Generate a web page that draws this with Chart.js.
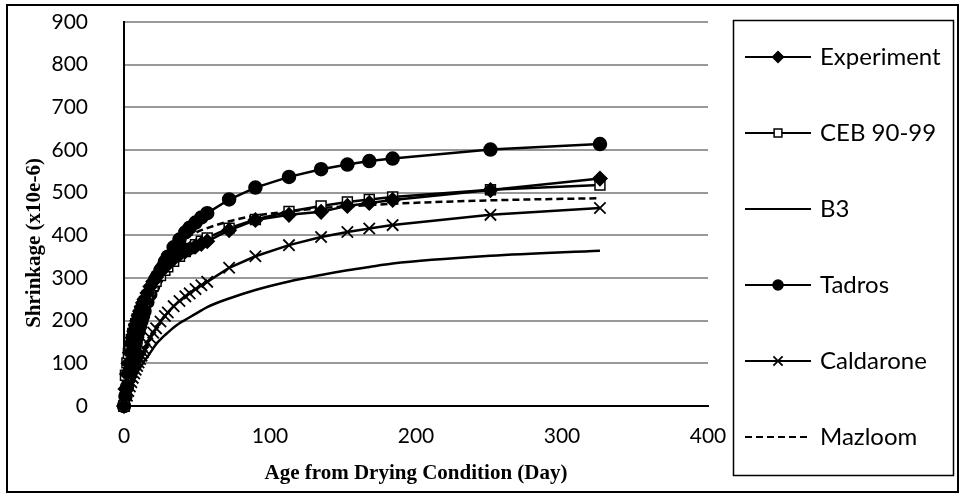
<!DOCTYPE html>
<html>
<head>
<meta charset="utf-8">
<script src="https://cdn.jsdelivr.net/npm/chart.js@4.4.1/dist/chart.umd.min.js"></script>
<style>
  html, body { margin: 0; padding: 0; background: #fff; }
  #wrap { width: 963px; height: 497px; }
</style>
</head>
<body>
<div id="wrap"><canvas id="shrinkChart" width="963" height="497"></canvas></div>
<script>
// days after drying started
const days = [0, 1, 2, 3, 4, 5, 6, 7, 8, 9, 10, 11, 12, 13, 14, 16, 18, 20, 22, 25, 28, 30, 34, 38, 42, 45, 49, 53, 57, 72, 90, 113, 135, 153, 168, 184, 251, 326];

// shrinkage, x10e-6
const experiment = [0, 40, 75, 100, 125, 145, 160, 175, 190, 200, 212, 222, 232, 242, 250, 265, 280, 292, 302, 315, 326, 333, 345, 355, 363, 368, 374, 380, 386, 412, 436, 448, 455, 469, 476, 483, 506, 533];
const ceb = [0, 72, 101, 123, 141, 156, 170, 182, 193, 204, 213, 222, 230, 238, 245, 259, 271, 282, 292, 306, 318, 326, 339, 351, 362, 369, 378, 386, 394, 417, 437, 456, 469, 478, 484, 490, 507, 518];
const b3 = [0, 20, 30, 38, 46, 53, 60, 66, 72, 78, 84, 89, 95, 100, 106, 115, 125, 135, 145, 156, 166, 172, 184, 194, 202, 208, 216, 224, 232, 252, 272, 292, 307, 318, 326, 334, 352, 364];
const tadros = [0, 23, 44, 64, 83, 101, 117, 133, 148, 162, 175, 188, 200, 211, 222, 244, 262, 280, 297, 318, 338, 350, 372, 390, 407, 418, 430, 442, 452, 484, 512, 537, 555, 566, 574, 580, 601, 614];
const caldarone = [0, 12, 24, 35, 46, 56, 66, 76, 85, 94, 102, 110, 118, 126, 133, 147, 160, 172, 182, 198, 211, 219, 234, 246, 257, 264, 274, 283, 291, 324, 351, 377, 396, 408, 416, 424, 448, 464];
const mazloom = [0, 39, 72, 101, 126, 148, 168, 186, 202, 217, 230, 242, 253, 263, 272, 289, 303, 316, 327, 341, 354, 360, 373, 384, 392, 399, 406, 412, 417, 433, 446, 456, 464, 468, 471, 474, 482, 487];

const xTicks = [0, 100, 200, 300, 400];
const yTicks = [0, 100, 200, 300, 400, 500, 600, 700, 800, 900];
const yTitle = 'Shrinkage (x10e-6)';

const pts = vals => days.map((d, i) => ({ x: d, y: vals[i] }));

// white page, outer frame, y title and the boxed legend on the right
const frameAndLegend = {
  id: 'frameAndLegend',
  beforeDraw(chart) {
    const ctx = chart.ctx;
    ctx.save();
    ctx.fillStyle = '#fff';
    ctx.fillRect(0, 0, chart.width, chart.height);
    ctx.restore();
  },
  afterDraw(chart) {
    const ctx = chart.ctx;
    ctx.save();
    ctx.strokeStyle = '#000';
    ctx.lineWidth = 2;
    ctx.strokeRect(7, 5, 951, 487);

    ctx.save();
    ctx.translate(35, 243);
    ctx.rotate(-Math.PI / 2);
    ctx.fillStyle = '#000';
    ctx.font = 'bold 21px "Liberation Serif"';
    ctx.textAlign = 'center';
    ctx.textBaseline = 'middle';
    ctx.fillText(yTitle, 0, 0);
    ctx.restore();

    ctx.lineWidth = 1.5;
    ctx.strokeRect(733.5, 20.5, 220, 455);
    chart.data.datasets.forEach((ds, i) => {
      const y = 57 + i * 76;
      ctx.strokeStyle = '#000';
      ctx.lineWidth = 2;
      ctx.setLineDash(ds.borderDash || []);
      ctx.beginPath();
      ctx.moveTo(745, y);
      ctx.lineTo(811, y);
      ctx.stroke();
      ctx.setLineDash([]);
      if (ds.pointRadius > 0) {
        ctx.fillStyle = ds.pointBackgroundColor;
        ctx.lineWidth = ds.pointBorderWidth;
        Chart.helpers.drawPoint(ctx, { pointStyle: ds.pointStyle, radius: ds.pointRadius - 1.5, borderWidth: ds.pointBorderWidth }, 778, y);
      }
      ctx.fillStyle = '#000';
      ctx.font = '24px Lato';
      ctx.textBaseline = 'middle';
      ctx.textAlign = 'left';
      ctx.fillText(ds.label, 820, y);
    });
    ctx.restore();
  }
};

const series = (label, vals, extra) => Object.assign({
  label: label,
  data: pts(vals),
  borderColor: '#000',
  borderWidth: 2.5,
  pointBorderColor: '#000',
  pointBackgroundColor: '#000',
  pointBorderWidth: 1.5,
  pointRadius: 0,
  tension: 0,
  clip: false
}, extra);

const ctx = document.getElementById('shrinkChart').getContext('2d');
const shrinkChart = new Chart(ctx, {
  type: 'line',
  data: {
    datasets: [
      series('Experiment', experiment, { pointStyle: 'rectRot', pointRadius: 7 }),
      series('CEB 90-99', ceb, { pointStyle: 'rect', pointRadius: 7, pointBackgroundColor: '#fff' }),
      series('B3', b3, { cubicInterpolationMode: 'monotone' }),
      series('Tadros', tadros, { pointStyle: 'circle', pointRadius: 6.5 }),
      series('Caldarone', caldarone, { pointStyle: 'crossRot', pointRadius: 8, pointBorderWidth: 1.8 }),
      series('Mazloom', mazloom, { borderDash: [7, 4], cubicInterpolationMode: 'monotone' })
    ]
  },
  options: {
    responsive: false,
    animation: false,
    layout: { padding: { left: 0, right: 255, top: 22, bottom: 0 } },
    plugins: {
      legend: { display: false },
      tooltip: { enabled: false }
    },
    scales: {
      x: {
        type: 'linear',
        min: xTicks[0],
        max: xTicks[xTicks.length - 1],
        afterBuildTicks: s => { s.ticks = xTicks.map(v => ({ value: v })); },
        afterFit: s => { s.height = 91; },
        ticks: { padding: 18, color: '#000', font: { family: 'Lato', size: 21 } },
        grid: { display: false, drawTicks: false },
        border: { display: true, color: '#000', width: 2 },
        title: {
          display: true,
          text: 'Age from Drying Condition (Day)',
          color: '#000',
          font: { family: 'Liberation Serif', size: 21, weight: 'bold' },
          padding: { top: 0, bottom: 11 }
        }
      },
      y: {
        min: yTicks[0],
        max: yTicks[yTicks.length - 1],
        afterBuildTicks: s => { s.ticks = yTicks.map(v => ({ value: v })); },
        afterFit: s => { s.width = 124; s.paddingTop = 12; s.paddingBottom = 12; },
        ticks: { padding: 36, color: '#000', font: { family: 'Lato', size: 21 } },
        grid: {
          drawTicks: false,
          lineWidth: 2,
          color: c => (c.tick && c.tick.value === 0) ? 'rgba(0,0,0,0)' : '#999'
        },
        border: { display: true, color: '#000', width: 2 }
      }
    }
  },
  plugins: [frameAndLegend]
});
</script>
</body>
</html>
